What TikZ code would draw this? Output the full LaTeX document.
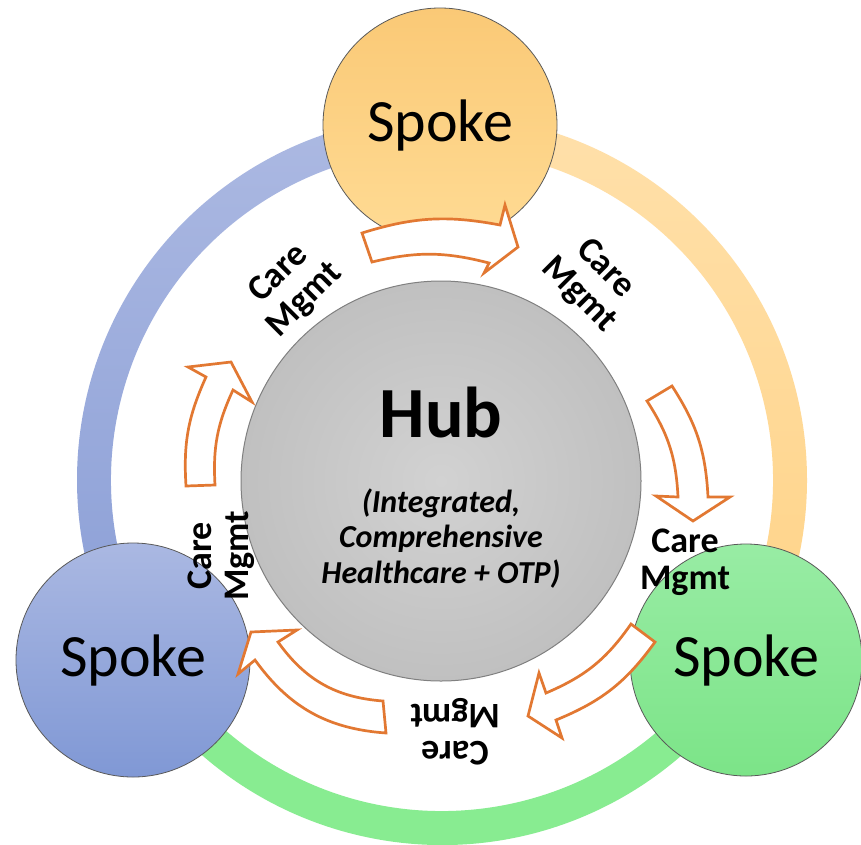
\documentclass[tikz,border=0pt]{standalone}
\usepackage{fontspec}
\setmainfont{Carlito}
\definecolor{arrowor}{RGB}{226,120,50}
\definecolor{ringBlueA}{RGB}{172,185,226}
\definecolor{ringBlueB}{RGB}{138,158,214}
\definecolor{ringOrA}{RGB}{255,224,170}
\definecolor{ringOrB}{RGB}{255,211,135}
\definecolor{ringGr}{RGB}{136,236,145}
\definecolor{orA}{RGB}{250,201,118}
\definecolor{orB}{RGB}{255,219,148}
\definecolor{blA}{RGB}{170,184,226}
\definecolor{blB}{RGB}{128,152,213}
\definecolor{grA}{RGB}{152,236,164}
\definecolor{grB}{RGB}{124,228,136}
\definecolor{hubA}{RGB}{210,210,210}
\definecolor{hubB}{RGB}{192,192,192}
\begin{document}
\begin{tikzpicture}[x=1pt,y=1pt,
  carrow/.style={draw=arrowor, fill=white, line width=2.7pt, line join=miter, miter limit=10},
  spoke/.style={circle, draw=black!65, line width=0.8pt, minimum size=234pt, inner sep=0pt, font=\fontsize{60}{72}\selectfont},
  lab/.style={font=\bfseries\fontsize{36}{37}\selectfont, align=center, inner sep=0pt},
  sub/.style={font=\bfseries\itshape\fontsize{32}{36}\selectfont, inner sep=0pt, anchor=base}]
\useasboundingbox (0,0) rectangle (861,-844);
\fill[white] (0,0) rectangle (861,-844);
% outer ring
\begin{scope}[shift={(442,-480)}]
\shade[top color=ringBlueA, bottom color=ringBlueB] (90:365) arc[start angle=90,end angle=210,radius=365] -- (210:331) arc[start angle=210,end angle=90,radius=331] -- cycle;
\shade[top color=ringOrA, bottom color=ringOrB] (90:365) arc[start angle=90,end angle=-30,radius=365] -- (-30:331) arc[start angle=-30,end angle=90,radius=331] -- cycle;
\fill[ringGr] (210:365) arc[start angle=210,end angle=330,radius=365] -- (330:331) arc[start angle=330,end angle=210,radius=331] -- cycle;
\end{scope}
% spokes
\node[spoke, top color=orA, bottom color=orB] (sptop) at (440,-125) {Spoke};
\node[spoke, top color=blA, bottom color=blB] (spleft) at (133,-660) {Spoke};
\node[spoke, top color=grA, bottom color=grB, minimum size=232pt] (spright) at (746,-660) {Spoke};
% hub
\node[circle, draw=black!50, line width=1pt, minimum size=400pt, inner sep=0pt, inner color=hubA, outer color=hubB] (hub) at (441,-481) {};
\node[font=\bfseries\fontsize{72}{80}\selectfont, anchor=base, inner sep=0pt] (hubt) at (441,-437) {Hub};
\node[sub] (s1) at (441,-512) {(Integrated,};
\node[sub] (s2) at (441,-547) {Comprehensive};
\node[sub] (s3) at (441,-583) {Healthcare + OTP)};
% block arrows
\draw[carrow] (362,-233) to[bend left=14] (500,-225) -- (505,-205) -- (518,-247) -- (484,-273) -- (489,-263) to[bend right=14] (372,-262) -- cycle;
\draw[carrow] (672,-386) to[bend left=15] (708,-497) -- (730,-497) -- (693,-521) -- (656,-496) -- (678,-497) to[bend right=15] (647,-401) -- cycle;
\draw[carrow] (655,-642) to[bend left=16] (556,-720) -- (562,-738) -- (528,-716) -- (539,-673) -- (546,-693) to[bend right=16] (631,-624) -- cycle;
\draw[carrow] (386,-733) to[bend left=25] (255,-660) -- (238,-674) -- (251,-632) -- (297,-630) -- (278,-642) to[bend right=25] (383,-701) -- cycle;
\draw[carrow] (186,-486) to[bend left=14] (206,-377) -- (188,-367) -- (231,-362) -- (252,-402) -- (233,-390) to[bend right=14] (215,-485) -- cycle;
% labels
\node[lab, rotate=45] (l1) at (292,-287) {Care\\Mgmt};
\node[lab, rotate=-45] (l2) at (592,-282) {Care\\Mgmt};
\node[lab] (l3) at (685,-562) {Care\\Mgmt};
\node[lab, rotate=180] (l4) at (455,-732) {Care\\Mgmt};
\node[lab, rotate=90] (l5) at (221,-556) {Care\\Mgmt};
\end{tikzpicture}
\end{document}
